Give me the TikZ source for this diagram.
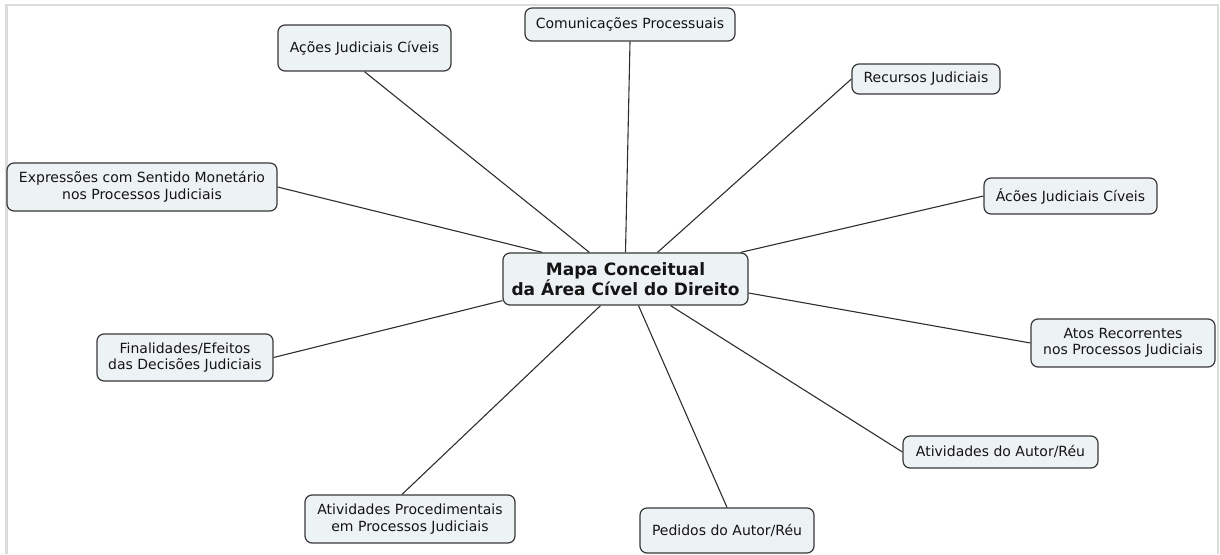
\documentclass[tikz,border=0pt]{standalone}
\usepackage{fontspec}
\setmainfont{DejaVu Sans}
\usetikzlibrary{calc,backgrounds}
\definecolor{boxfill}{HTML}{EDF2F5}
\definecolor{boxline}{HTML}{383838}
\definecolor{linkline}{HTML}{2E2E2E}
\definecolor{framegray}{HTML}{DCDCDC}
\tikzset{
  concept/.style={draw=boxline, fill=boxfill, line width=1.2pt, rounded corners=7pt,
    align=center, inner sep=0pt, text=black!92, font=\fontsize{14}{16.5}\selectfont},
  hubbox/.style={concept, font=\fontsize{17}{20}\selectfont\bfseries},
  link/.style={draw=linkline, line width=1.1pt},
}
\begin{document}
\begin{tikzpicture}[x=1pt,y=-1pt]
\useasboundingbox (0,0) rectangle (1220,554);
% outer frame (open at the bottom)
\draw[framegray, line width=2.5pt] (6.5,554) -- (6.5,5) -- (1218,5) -- (1218,554);

% central concept
\node[hubbox, minimum width=245pt, minimum height=52pt] (hub) at (625.5,279)
  {Mapa Conceitual\\da Área Cível do Direito};

% surrounding concepts
\node[concept, minimum width=173pt, minimum height=46pt] (acoesA) at (364.5,48) {Ações Judiciais Cíveis};
\node[concept, minimum width=210pt, minimum height=33pt] (comun) at (630,24.5) {Comunicações Processuais};
\node[concept, minimum width=148pt, minimum height=30pt] (recursos) at (926,79) {Recursos Judiciais};
\node[concept, minimum width=173pt, minimum height=36pt] (acoesB) at (1070.5,196) {Ácões Judiciais Cíveis};
\node[concept, minimum width=270pt, minimum height=48pt] (expr) at (142,187)
  {Expressões com Sentido Monetário\\nos Processos Judiciais};
\node[concept, minimum width=176pt, minimum height=47pt] (final) at (185,357.5)
  {Finalidades/Efeitos\\das Decisões Judiciais};
\node[concept, minimum width=184pt, minimum height=48pt] (atos) at (1123,343)
  {Atos Recorrentes\\nos Processos Judiciais};
\node[concept, minimum width=195pt, minimum height=32pt] (autor) at (1000.5,452) {Atividades do Autor/Réu};
\node[concept, minimum width=210pt, minimum height=48pt] (proc) at (410,519)
  {Atividades Procedimentais\\em Processos Judiciais};
\node[concept, minimum width=174pt, minimum height=45pt] (pedidos) at (727,530.5) {Pedidos do Autor/Réu};

% connectors
\begin{scope}[on background layer]
\draw[link] ($(acoesA.south west)+(87,0)$) -- ($(hub.north west)+(87,0)$);
\draw[link] (comun.south) -- (hub.north);
\draw[link] (recursos.west) -- ($(hub.north)+(32,0)$);
\draw[link] (acoesB.west) -- ($(hub.north east)+(-8,0)$);
\draw[link] (expr.east) -- ($(hub.north west)+(40,0)$);
\draw[link] (final.east) -- ($(hub.south west)+(0,-5)$);
\draw[link] (atos.west) -- ($(hub.east)+(0,14)$);
\draw[link] (autor.west) -- ($(hub.south)+(45,0)$);
\draw[link] ($(proc.north)+(-8,0)$) -- ($(hub.south)+(-25,0)$);
\draw[link] (pedidos.north) -- ($(hub.south)+(13,0)$);
\end{scope}
\end{tikzpicture}
\end{document}
